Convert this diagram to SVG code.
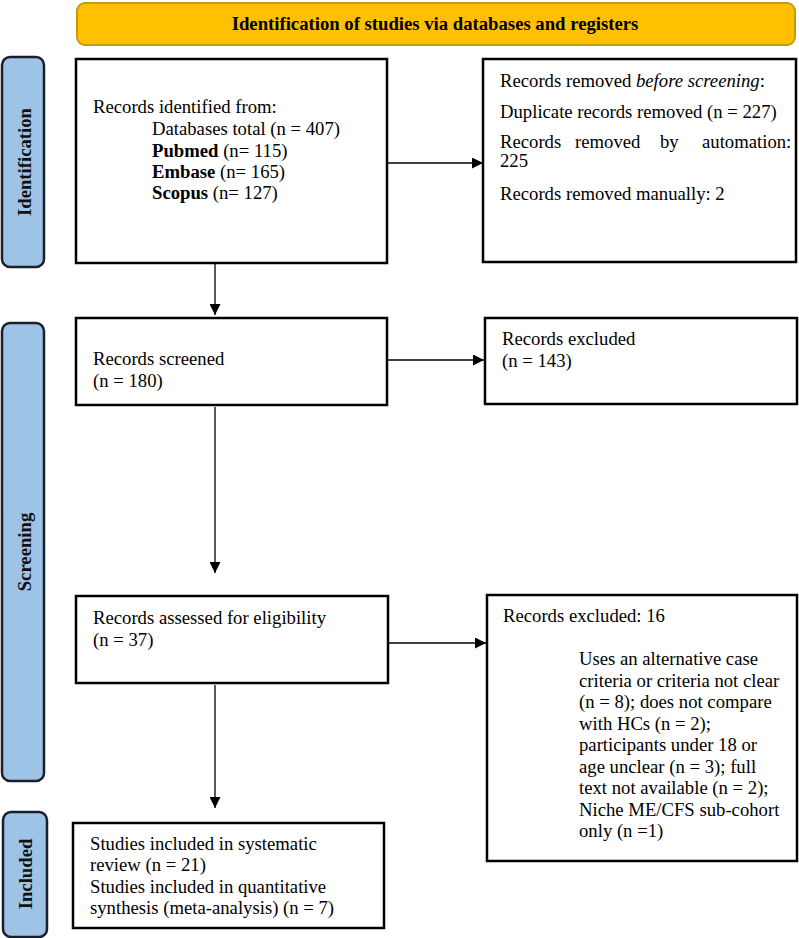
<svg xmlns="http://www.w3.org/2000/svg" width="799" height="938" viewBox="0 0 799 938">
<defs>
<marker id="ah" viewBox="0 0 10 10" refX="10" refY="5" markerWidth="11" markerHeight="11" markerUnits="userSpaceOnUse" orient="auto">
<path d="M0,0 L10,5 L0,10 z" fill="#000"/>
</marker>
<style>
.t{font-family:"Liberation Serif","Times New Roman",serif;font-size:18.7px;fill:#000}
.b{font-weight:bold}
.box{fill:#fff;stroke:#000;stroke-width:2.5}
.side{fill:#9dc3e6;stroke:#1a1f2b;stroke-width:2.5}
.lab{font-family:"Liberation Serif","Times New Roman",serif;font-size:18.7px;font-weight:bold;fill:#111;text-anchor:middle}
.c{stroke:#000;stroke-width:1.3;fill:none;marker-end:url(#ah)}
</style>
</defs>
<rect width="799" height="938" fill="#fff"/>
<g id="header">
<rect x="77" y="3" width="718" height="42" rx="8" fill="#ffc000" stroke="#c49a10" stroke-width="2"/>
<text class="t b" x="435" y="30" text-anchor="middle" font-size="19">Identification of studies via databases and registers</text>
</g>
<g id="phase-identification">
<rect class="side" x="2" y="57" width="42" height="210" rx="8"/>
<text class="lab" transform="translate(31,162) rotate(-90)">Identification</text>
</g>
<g id="phase-screening">
<rect class="side" x="2" y="323" width="42" height="458" rx="8"/>
<text class="lab" transform="translate(31,552) rotate(-90)">Screening</text>
</g>
<g id="phase-included">
<rect class="side" x="3" y="812" width="44" height="125" rx="8"/>
<text class="lab" transform="translate(32,874) rotate(-90)">Included</text>
</g>
<g id="records-identified">
<rect class="box" x="76" y="59" width="311" height="204"/>
<text class="t" x="93" y="113">Records identified from:</text>
<text class="t" x="152" y="135">Databases total (n = 407)</text>
<text class="t" x="152" y="157"><tspan class="b">Pubmed</tspan> (n= 115)</text>
<text class="t" x="152" y="178"><tspan class="b">Embase</tspan> (n= 165)</text>
<text class="t" x="152" y="199"><tspan class="b">Scopus</tspan> (n= 127)</text>
</g>
<g id="records-removed">
<rect class="box" x="483" y="59" width="313" height="203"/>
<text class="t" x="500" y="87">Records removed <tspan font-style="italic">before screening</tspan>:</text>
<text class="t" x="500" y="118">Duplicate records removed (n = 227)</text>
<text class="t" y="148"><tspan x="500">Records</tspan> <tspan x="575">removed</tspan> <tspan x="660">by</tspan> <tspan x="702">automation:</tspan></text>
<text class="t" x="500" y="167">225</text>
<text class="t" x="500" y="200">Records removed manually: 2</text>
</g>
<g id="records-screened">
<rect class="box" x="76" y="318" width="311" height="87"/>
<text class="t" x="93" y="365">Records screened</text>
<text class="t" x="93" y="387">(n = 180)</text>
</g>
<g id="records-excluded">
<rect class="box" x="485" y="318" width="312" height="86"/>
<text class="t" x="502" y="345">Records excluded</text>
<text class="t" x="502" y="367">(n = 143)</text>
</g>
<g id="records-assessed">
<rect class="box" x="76" y="596" width="312" height="87"/>
<text class="t" x="93" y="624">Records assessed for eligibility</text>
<text class="t" x="93" y="646">(n = 37)</text>
</g>
<g id="records-excluded-16">
<rect class="box" x="487" y="595" width="310" height="266"/>
<text class="t" x="503" y="622">Records excluded: 16</text>
<text class="t" x="579" y="665">Uses an alternative case</text>
<text class="t" x="579" y="686.5">criteria or criteria not clear</text>
<text class="t" x="579" y="708">(n = 8); does not compare</text>
<text class="t" x="579" y="729.5">with HCs (n = 2);</text>
<text class="t" x="579" y="751">participants under 18 or</text>
<text class="t" x="579" y="772.5">age unclear (n = 3); full</text>
<text class="t" x="579" y="794">text not available (n = 2);</text>
<text class="t" x="579" y="815.5">Niche ME/CFS sub-cohort</text>
<text class="t" x="579" y="837">only (n =1)</text>
</g>
<g id="studies-included">
<rect class="box" x="73" y="823" width="311" height="105"/>
<text class="t" x="90" y="850">Studies included in systematic</text>
<text class="t" x="90" y="871">review (n = 21)</text>
<text class="t" x="90" y="893">Studies included in quantitative</text>
<text class="t" x="90" y="914">synthesis (meta-analysis) (n = 7)</text>
</g>
<g id="connectors">
<line class="c" x1="388" y1="163" x2="483" y2="163"/>
<line class="c" x1="215" y1="264" x2="215" y2="315"/>
<line class="c" x1="388" y1="360" x2="484" y2="360"/>
<line class="c" x1="215" y1="407" x2="215" y2="573"/>
<line class="c" x1="389" y1="643" x2="486" y2="643"/>
<line class="c" x1="215" y1="685" x2="215" y2="808"/>
</g>
</svg>
